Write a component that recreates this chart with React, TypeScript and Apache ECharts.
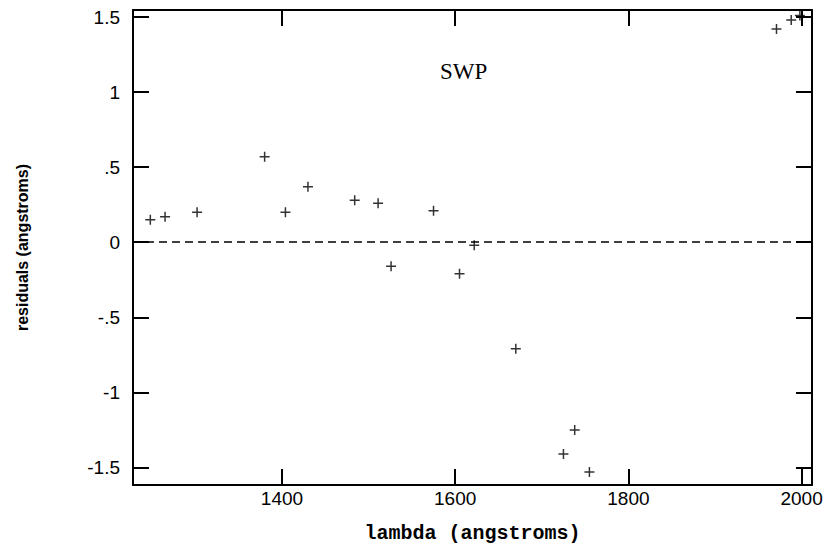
import React, { useEffect, useRef } from "react";
import * as echarts from "echarts";

const lambdaValues = [1248, 1265, 1302, 1380, 1404, 1430, 1484, 1511, 1526, 1575, 1605, 1622, 1670, 1725, 1738, 1755, 1971, 1988, 1998];
const residualValues = [0.15, 0.17, 0.2, 0.57, 0.2, 0.37, 0.28, 0.26, -0.16, 0.21, -0.21, -0.02, -0.71, -1.41, -1.25, -1.53, 1.42, 1.48, 1.51];
const xTicks = [1400, 1600, 1800, 2000];
const yTicks = [-1.5, -1, -0.5, 0, 0.5, 1, 1.5];
const xRange = [1228, 2012];
const yRange = [-1.617, 1.547];

const fmtY = (v: number) => {
  if (v === 0) return "0";
  const s = String(v);
  return s.replace(/^(-?)0\./, "$1.");
};

export default function App() {
  const ref = useRef<HTMLDivElement>(null);
  useEffect(() => {
    if (!ref.current) return;
    const chart = echarts.init(ref.current, null, { renderer: "svg" });
    const axisLine = { show: true, onZero: false, lineStyle: { color: "#000", width: 2 } };
    const tickStyle = { lineStyle: { color: "#000", width: 2 } };
    const data = lambdaValues.map((x, i) => [x, residualValues[i]]);
    chart.setOption({
      animation: false,
      backgroundColor: "#fff",
      grid: { left: 133, right: 15, top: 10, bottom: 65 },
      xAxis: [
        {
          type: "value",
          position: "bottom",
          min: xRange[0],
          max: xRange[1],
          axisLine,
          splitLine: { show: false },
          axisTick: { show: true, inside: true, length: 16, customValues: xTicks, ...tickStyle },
          axisLabel: {
            customValues: xTicks,
            color: "#000",
            fontFamily: "Liberation Sans",
            fontSize: 19,
            margin: 4,
            formatter: (v: number) => String(v),
          },
          name: "lambda (angstroms)",
          nameLocation: "middle",
          nameGap: 38,
          nameTextStyle: { color: "#000", fontFamily: "Liberation Mono", fontWeight: "bold", fontSize: 20 },
        },
        {
          type: "value",
          position: "top",
          min: xRange[0],
          max: xRange[1],
          axisLine,
          splitLine: { show: false },
          axisTick: { show: true, inside: true, length: 16, customValues: xTicks, ...tickStyle },
          axisLabel: { show: false },
        },
      ],
      yAxis: [
        {
          type: "value",
          position: "left",
          min: yRange[0],
          max: yRange[1],
          axisLine,
          splitLine: { show: false },
          axisTick: { show: true, inside: true, length: 16, customValues: yTicks, ...tickStyle },
          axisLabel: {
            customValues: yTicks,
            color: "#000",
            fontFamily: "Liberation Sans",
            fontSize: 19,
            margin: 13,
            formatter: (v: number) => fmtY(v),
          },
          name: "residuals (angstroms)",
          nameLocation: "middle",
          nameGap: 103,
          nameRotate: 90,
          nameTextStyle: { color: "#000", fontFamily: "Liberation Sans", fontWeight: "bold", fontSize: 16 },
        },
        {
          type: "value",
          position: "right",
          min: yRange[0],
          max: yRange[1],
          axisLine,
          splitLine: { show: false },
          axisTick: { show: true, inside: true, length: 16, customValues: yTicks, ...tickStyle },
          axisLabel: { show: false },
        },
      ],
      graphic: [
        {
          type: "text",
          left: 440,
          top: 60,
          style: { text: "SWP", fill: "#000", font: "23px 'Liberation Serif'" },
        },
      ],
      series: [
        {
          type: "scatter",
          xAxisIndex: 0,
          yAxisIndex: 0,
          data,
          symbol: "path://M0,5 L10,5 M5,0 L5,10",
          symbolSize: 10,
          itemStyle: { color: "none", borderColor: "#000", borderWidth: 1.5 },
          markLine: {
            silent: true,
            symbol: ["none", "none"],
            label: { show: false },
            lineStyle: { color: "#000", width: 1.5, type: [8, 5] },
            data: [{ yAxis: 0 }],
          },
        },
      ],
    });
    return () => chart.dispose();
  }, []);
  return <div ref={ref} style={{ position: "fixed", left: 0, top: 0, width: 827, height: 550 }} />;
}
